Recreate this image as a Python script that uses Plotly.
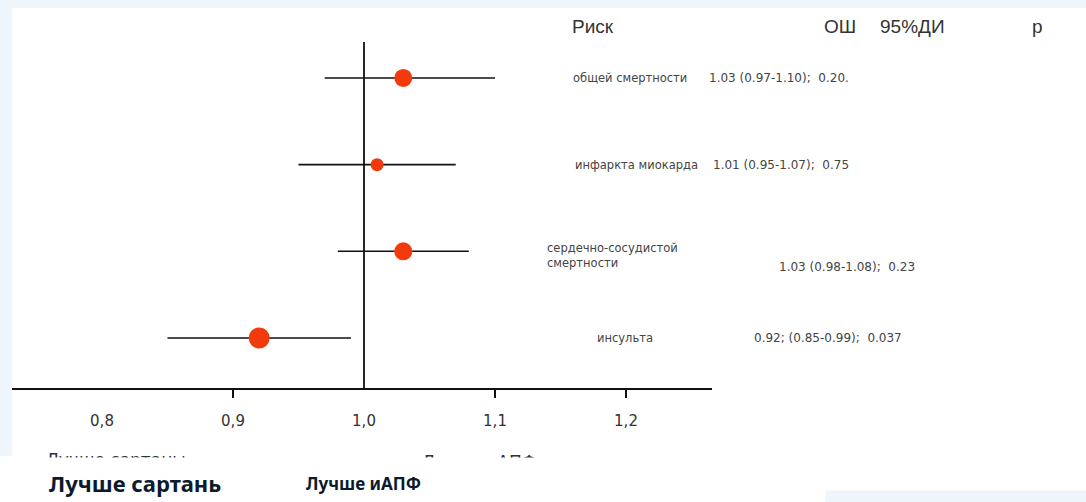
import plotly.graph_objects as go

# Forest plot: odds ratios (sartans vs ACE inhibitors)
risk_labels = ["общей смертности", "инфаркта миокарда",
               "сердечно-сосудистой<br>смертности", "инсульта"]
odds_ratio = [1.03, 1.01, 1.03, 0.92]
ci_low = [0.97, 0.95, 0.98, 0.85]
ci_high = [1.10, 1.07, 1.08, 0.99]
value_text = ["1.03 (0.97-1.10);  0.20.", "1.01 (0.95-1.07);  0.75",
              "1.03 (0.98-1.08);  0.23", "0.92; (0.85-0.99);  0.037"]
tick_vals = [0.8, 0.9, 1.0, 1.1, 1.2]
tick_text = ["0,8", "0,9", "1,0", "1,1", "1,2"]
tick_marks = [0.9, 1.1, 1.2]

W, H = 1086, 502
BLUE = "#EEF5FB"
INK = "#111111"
TXT = "#444444"
DOT = "#F23A0C"


def px(x):
    return x / W


def py(y):
    return 1 - y / H


fig = go.Figure()

fig.add_trace(go.Scatter(
    x=odds_ratio, y=risk_labels, mode="markers",
    marker=dict(color=DOT, size=[18, 13, 18, 21], opacity=1, line=dict(width=0)),
    error_x=dict(type="data", symmetric=False,
                 array=[h - o for h, o in zip(ci_high, odds_ratio)],
                 arrayminus=[o - l for o, l in zip(odds_ratio, ci_low)],
                 color=INK, thickness=1.6, width=0),
    hoverinfo="skip", showlegend=False,
))
# carrier for the tick-mark overlay axis
fig.add_trace(go.Scatter(x=[1.0], y=[risk_labels[0]], xaxis="x2", mode="markers",
                         marker=dict(opacity=0), hoverinfo="skip", showlegend=False))

xr = [1.0 - 352 / 1310, 1.0 + 348 / 1310]
fig.update_layout(
    width=W, height=H, margin=dict(l=0, r=0, t=0, b=0),
    paper_bgcolor="white", plot_bgcolor="rgba(0,0,0,0)",
    xaxis=dict(domain=[px(12), px(712)], range=xr, tickvals=tick_vals, ticktext=tick_text,
               ticks="", showline=True, linecolor=INK, linewidth=1.6, showgrid=False,
               zeroline=False, ticklabelstandoff=18,
               tickfont=dict(family="DejaVu Sans", size=15, color="#333333")),
    xaxis2=dict(overlaying="x", anchor="y", side="bottom", range=xr, tickvals=tick_marks,
                ticks="outside", ticklen=9, tickwidth=1.6, tickcolor=INK,
                showticklabels=False, showline=False, showgrid=False, zeroline=False),
    yaxis=dict(domain=[py(388), py(42)], type="category", categoryarray=risk_labels,
               range=[3.577, -0.415], visible=False),
)

# reference line at OR = 1
fig.add_shape(type="line", xref="x", yref="y domain", x0=1.0, x1=1.0, y0=0, y1=1,
              line=dict(color=INK, width=1.8), layer="below")

# slide margins
fig.add_shape(type="rect", xref="paper", yref="paper", x0=0, x1=1, y0=py(8), y1=1,
              fillcolor=BLUE, line=dict(width=0), layer="below")
fig.add_shape(type="rect", xref="paper", yref="paper", x0=0, x1=px(12), y0=py(456), y1=1,
              fillcolor=BLUE, line=dict(width=0), layer="below")

ann = []
hdr = dict(family="Liberation Sans", size=19, color="#333333")
ann.append(dict(text="Риск", x=px(570), y=py(27), xanchor="left", font=hdr))
ann.append(dict(text="ОШ", x=px(822), y=py(27), xanchor="left", font=hdr))
ann.append(dict(text="95%ДИ", x=px(878), y=py(27), xanchor="left", font=hdr))
ann.append(dict(text="р", x=px(1030), y=py(27), xanchor="left", font=hdr))

small = dict(family="DejaVu Sans", size=11.5, color=TXT)
vals = dict(family="DejaVu Sans", size=12, color=TXT)
label_x = [630, 636, 545, 625]
label_anchor = ["center", "center", "left", "center"]
label_shift = [0, 0, -4, 0]
value_x = [707, 711, 777, 752]
value_shift = [0, 0, -16, 0]
for i, lab in enumerate(risk_labels):
    ann.append(dict(text=lab, x=px(label_x[i]), xref="paper", y=lab, yref="y",
                    xanchor=label_anchor[i], align="left", yshift=label_shift[i], font=small))
    ann.append(dict(text=value_text[i], x=px(value_x[i]), xref="paper", y=lab, yref="y",
                    xanchor="left", yshift=value_shift[i], font=vals))

# captions of the underlying picture, partly hidden by the slide below
under = dict(family="DejaVu Sans", size=17, color="#333333")
ann.append(dict(text="Лучше сартаны", x=px(44), y=py(448), xanchor="left", yanchor="top", font=under))
ann.append(dict(text="Лучше иАПФ", x=px(420), y=py(450), xanchor="left", yanchor="top", font=under))
ann.append(dict(text=" ", x=0, y=py(457), xanchor="left", yanchor="top", width=W, height=H - 457,
                bgcolor="white", borderpad=0, showarrow=False))
ann.append(dict(text=" ", x=px(825), y=py(490), xanchor="left", yanchor="top", width=W - 825,
                height=12, bgcolor=BLUE, borderpad=0, showarrow=False))

bold = dict(family="Noto Sans", color="#0B1A2E")
ann.append(dict(text="<b>Лучше сартань</b>", x=px(47), y=py(483), xanchor="left",
                font=dict(size=22, **bold)))
ann.append(dict(text="<b>Лучше иАПФ</b>", x=px(304), y=py(483), xanchor="left",
                font=dict(size=17, **bold)))

for a in ann:
    a.setdefault("xref", "paper")
    a.setdefault("yref", "paper")
    a.setdefault("yanchor", "middle")
    a["showarrow"] = False
    fig.add_annotation(**a)

fig.write_html("out.html")
